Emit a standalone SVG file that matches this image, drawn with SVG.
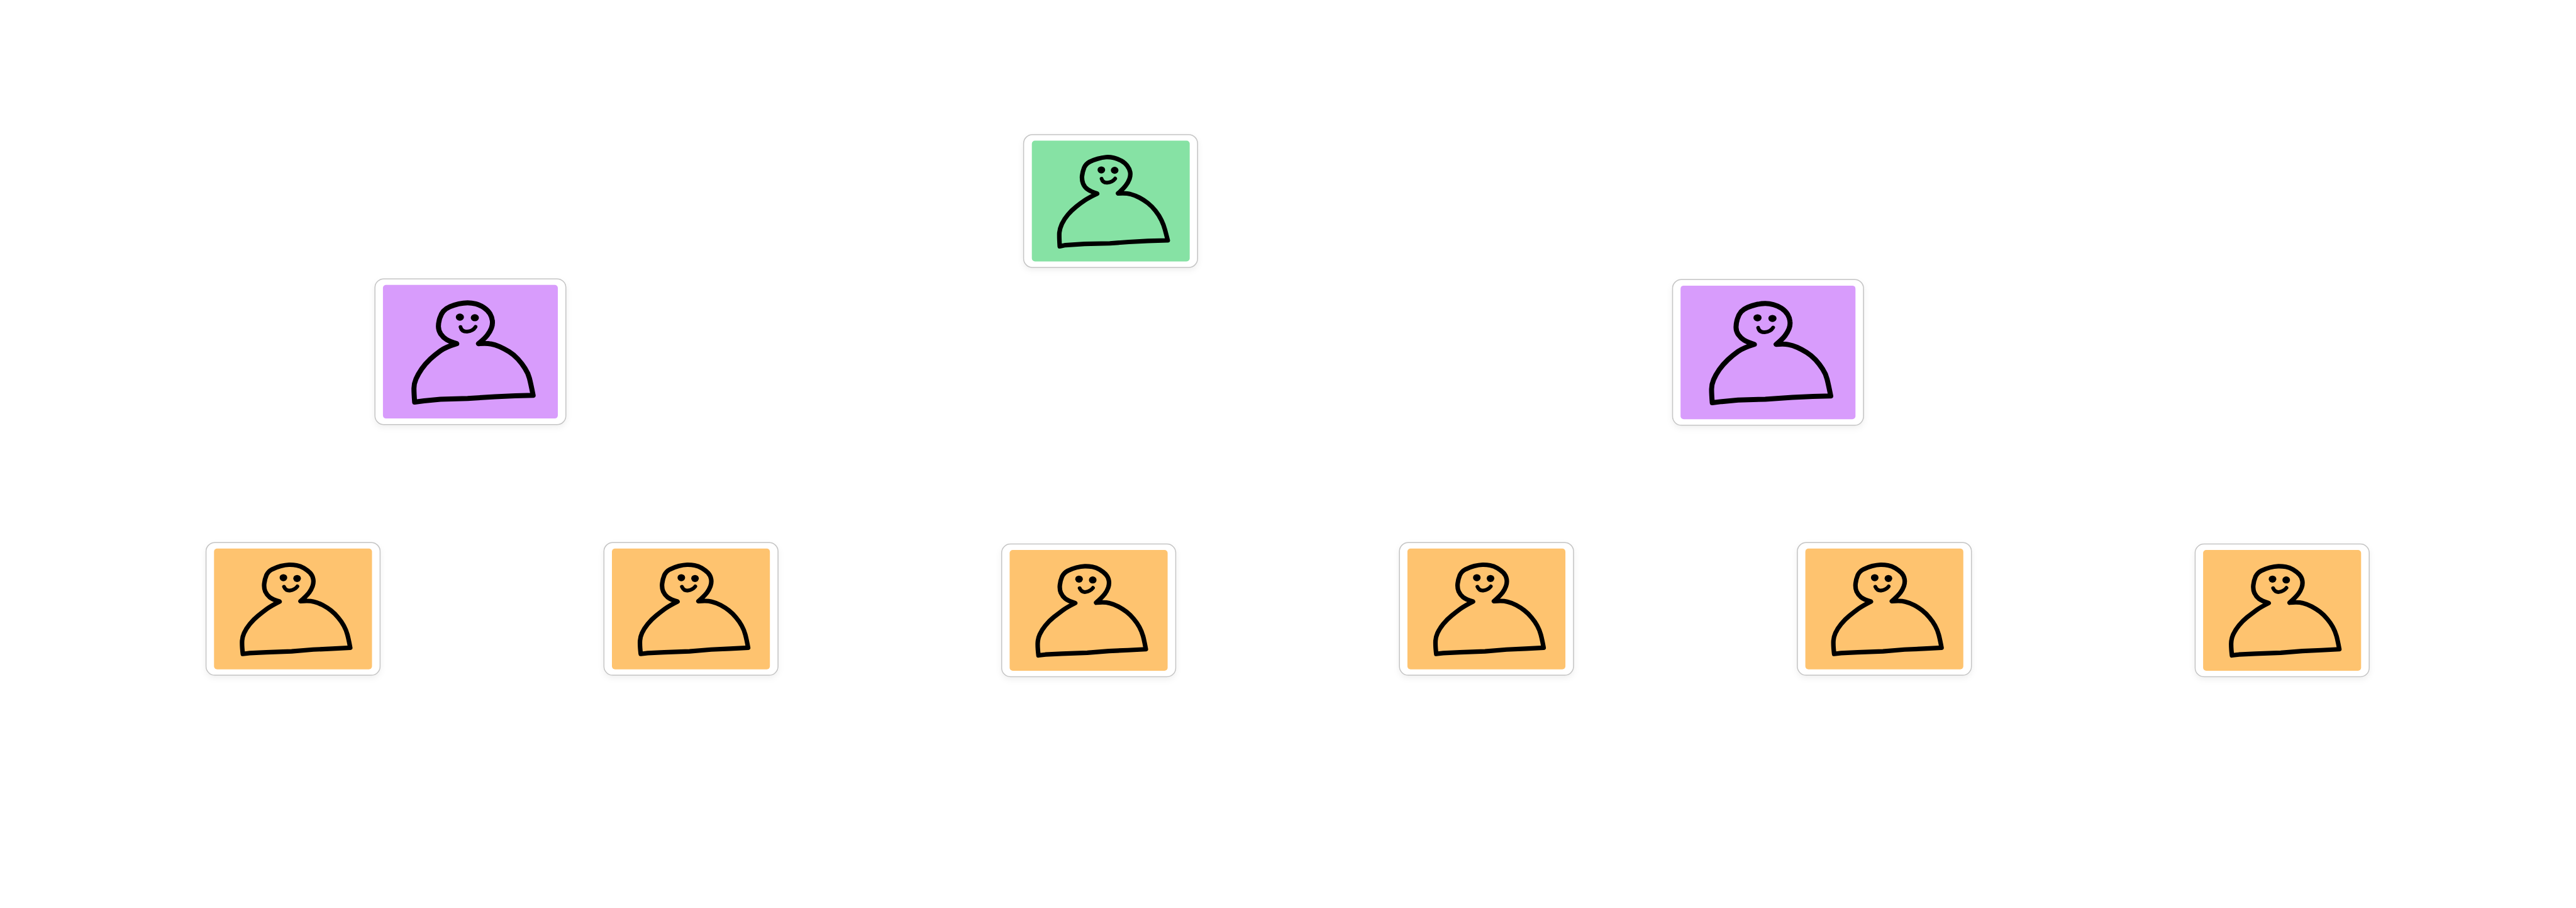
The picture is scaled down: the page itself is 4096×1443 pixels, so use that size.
<svg xmlns="http://www.w3.org/2000/svg" xmlns:xlink="http://www.w3.org/1999/xlink" width="4096" height="1443" viewBox="0 0 4096 1443">
<style>
.frame{fill:#fff;stroke:#c4c4c4;stroke-width:1.5;filter:url(#sh)}
.line{fill:none;stroke:#000;stroke-linejoin:round;stroke-linecap:round;vector-effect:non-scaling-stroke}
.body{stroke-width:7.2}
.bodyP{stroke-width:8}
.smile{stroke-width:6}
.green{fill:#86e2a4}.purple{fill:#d89cfc}.orange{fill:#fec36f}
</style>
<defs>
<filter id="sh" x="-10%" y="-10%" width="120%" height="125%"><feDropShadow dx="0" dy="4" stdDeviation="5" flood-color="#000" flood-opacity="0.06"/></filter>
<g id="personG">
<path class="line body" d="M700 585Q650 568 625 549Q600 530 589 500Q578 470 581 435Q585 400 597 367Q610 335 640 317Q670 300 705 290Q740 280 770 277Q800 275 830 282Q860 290 890 307Q920 325 937 350Q955 375 960 402Q965 430 955 460Q945 490 925 517Q905 545 865 583Q930 578 965 590Q1000 600 1035 620Q1070 640 1100 665Q1130 690 1160 730Q1190 770 1207 810Q1225 850 1235 890Q1245 930 1257 980L1100 985L950 993L800 1005L600 1010L450 1020L405 1030Q400 950 402 915Q405 880 422 840Q440 800 470 762Q500 725 535 695Q570 665 605 640Q640 615 700 585Z"/>
<circle cx="733" cy="385" r="30"/><circle cx="838" cy="388" r="30"/>
<path class="line smile" d="M735 460Q745 495 780 492Q820 488 842 458"/>
</g>
<g id="personO">
<path class="line body" d="M665 580Q610 562 587 543Q565 525 552 495Q540 465 544 427Q548 390 561 357Q575 325 607 307Q640 290 675 280Q710 270 740 269Q770 268 800 274Q830 280 857 297Q885 315 905 337Q925 360 930 390Q935 420 925 450Q915 480 897 505Q880 530 830 577Q900 570 935 581Q970 590 1005 610Q1040 630 1070 655Q1100 680 1127 715Q1155 750 1172 785Q1190 820 1200 860Q1210 900 1222 970L1080 978L930 985L760 1000L560 1008L430 1015L375 1022Q368 960 369 920Q370 880 385 845Q400 810 430 770Q460 730 495 700Q530 670 565 642Q600 615 665 580Z"/>
<circle cx="695" cy="378" r="30"/><circle cx="803" cy="385" r="30"/>
<path class="line smile" d="M700 455Q715 490 745 487Q785 480 805 452"/>
</g>
<g id="personP">
<path class="line bodyP" d="M670 622Q620 605 595 587Q570 570 552 540Q535 510 535 477Q535 445 545 407Q555 370 572 347Q590 325 620 310Q650 295 685 286Q720 277 750 277Q780 277 810 286Q840 295 870 317Q900 340 915 370Q930 400 932 430Q935 460 925 490Q915 520 895 550Q875 580 830 622Q890 616 920 624Q950 630 985 647Q1020 665 1055 690Q1090 715 1120 752Q1150 790 1172 830Q1195 870 1205 915Q1215 960 1232 1058L1100 1062L950 1070L750 1085L550 1092L430 1105L360 1115Q355 1040 355 1000Q355 960 370 920Q385 880 412 835Q440 790 475 752Q510 715 550 682Q590 650 670 622Z"/>
<circle cx="693" cy="398" r="30"/><circle cx="803" cy="403" r="30"/>
<path class="line smile" d="M698 482Q705 520 745 520Q790 515 808 480"/>
</g>
<g id="nodeO">
<rect class="frame" x="17.1" y="15.4" width="276.8" height="210.8" rx="14"/>
<rect class="orange" x="29.8" y="24.8" width="251.2" height="192" rx="5"/>
<use href="#personO" transform="scale(.20163 .18819)"/>
</g>
<g id="nodeP">
<rect class="frame" x="14.7" y="14.1" width="303.6" height="231.5" rx="14"/>
<rect class="purple" x="27.4" y="23.7" width="278.1" height="212.3" rx="5"/>
<use href="#personP" transform="scale(.21607 .18819)"/>
</g>
</defs>
<rect width="4096" height="1443" fill="#fff"/>
<g id="connectors"/>
<g id="node-root" transform="translate(1603.4 197.6)">
<rect class="frame" x="24.2" y="16.4" width="276.6" height="211" rx="14"/>
<rect class="green" x="37.3" y="26" width="251" height="191.8" rx="5"/>
<use href="#personG" transform="scale(.20163 .18819)"/>
</g>
<g id="node-lead-left" transform="translate(581.5 429.1)"><use href="#nodeP"/></g>
<g id="node-lead-right" transform="translate(2644.8 430.2)"><use href="#nodeP"/></g>
<g id="node-member-1" transform="translate(310.5 846.9)"><use href="#nodeO"/></g>
<g id="node-member-2" transform="translate(943.2 846.9)"><use href="#nodeO"/></g>
<g id="node-member-3" transform="translate(1575.6 849.2)"><use href="#nodeO"/></g>
<g id="node-member-4" transform="translate(2208.1 846.9)"><use href="#nodeO"/></g>
<g id="node-member-5" transform="translate(2840.8 846.9)"><use href="#nodeO"/></g>
<g id="node-member-6" transform="translate(3473.3 849.2)"><use href="#nodeO"/></g>
</svg>
